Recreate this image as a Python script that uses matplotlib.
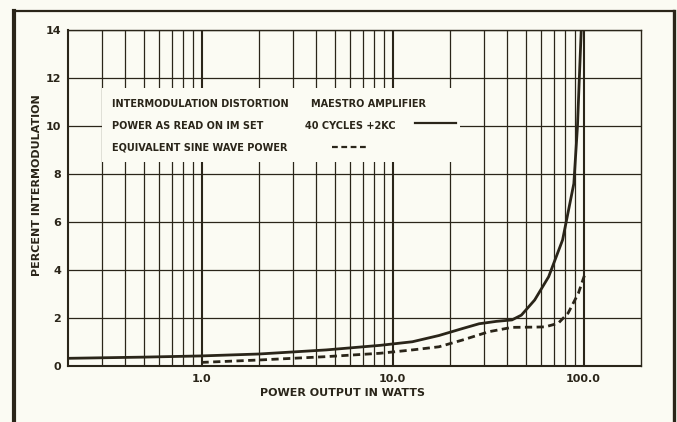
import matplotlib
matplotlib.use("Agg")
import matplotlib.pyplot as plt
from matplotlib.lines import Line2D
from matplotlib.patches import Rectangle
from matplotlib.ticker import FixedLocator, NullFormatter

INK = "#2a2519"
PAPER = "#fbfbf3"

# power output (W) vs. percent IM, as read on the IM set (40 cps + 2 kc)
im_set_watts = [0.2, 0.5, 1.0, 2.0, 4.5, 8.6, 12.7, 17.5, 23, 28.4, 35, 42.2,
                47.3, 55.5, 65.7, 77.7, 84, 89, 93, 95, 97.3]
im_set_pct = [0.32, 0.37, 0.42, 0.50, 0.67, 0.86, 1.01, 1.27, 1.55, 1.76, 1.86,
              1.92, 2.12, 2.75, 3.72, 5.25, 6.6, 7.6, 10.0, 11.9, 14.0]

# same distortion plotted against equivalent sine wave power
sine_watts = [1.0, 2.0, 4.5, 8.6, 12.7, 17.5, 23.2, 32, 42.2, 55, 63, 73.7,
              83, 94, 102]
sine_pct = [0.15, 0.25, 0.39, 0.53, 0.67, 0.80, 1.08, 1.43, 1.61, 1.62, 1.63,
            1.78, 2.2, 3.03, 3.86]

x_major = [1.0, 10.0, 100.0]
x_major_labels = ["1.0", "10.0", "100.0"]
x_minor = [m * d for d in (0.1, 1.0, 10.0, 100.0) for m in range(2, 10)]
y_ticks = [0, 2, 4, 6, 8, 10, 12, 14]

plt.rcParams["font.family"] = "DejaVu Sans"
plt.rcParams["font.weight"] = "bold"

fig = plt.figure(figsize=(6.77, 4.22), dpi=100, facecolor=PAPER)
W, H = 677.0, 422.0
ax = fig.add_axes([68 / W, 1 - 366 / H, 573 / W, 336 / H])
ax.set_facecolor(PAPER)

ax.set_xscale("log")
ax.set_xlim(0.2, 200)
ax.set_ylim(0, 14)

ax.xaxis.set_major_locator(FixedLocator(x_major))
ax.xaxis.set_minor_locator(FixedLocator([v for v in x_minor if 0.2 < v < 200]))
ax.xaxis.set_minor_formatter(NullFormatter())
ax.set_xticklabels(x_major_labels)
ax.set_yticks(y_ticks)
ax.tick_params(which="both", length=0, colors=INK, labelsize=8)
ax.tick_params(axis="x", pad=6)
ax.tick_params(axis="y", pad=5)

ax.grid(True, which="minor", axis="x", color=INK, lw=0.9)
ax.grid(True, which="major", axis="x", color=INK, lw=1.5)
ax.grid(True, which="major", axis="y", color=INK, lw=0.9)
ax.set_axisbelow(True)
for side, sp in ax.spines.items():
    sp.set_color(INK)
    sp.set_linewidth(1.5 if side in ("left", "bottom") else 1.0)

ax.plot(im_set_watts, im_set_pct, color=INK, lw=2.0, zorder=4,
        solid_capstyle="butt")
ax.plot(sine_watts, sine_pct, color=INK, lw=2.0, zorder=4,
        dashes=(2.6, 1.6))

# blank panel behind the caption
ax.add_patch(Rectangle((0.0585, 0.607), 0.626, 0.22, transform=ax.transAxes,
                       facecolor=PAPER, edgecolor="none", zorder=3))

cap = dict(transform=ax.transAxes, fontsize=7, color=INK, va="center",
           ha="left", zorder=5)
ax.text(0.077, 0.780, "INTERMODULATION DISTORTION", **cap)
ax.text(0.424, 0.780, "MAESTRO AMPLIFIER", **cap)
ax.text(0.077, 0.714, "POWER AS READ ON IM SET", **cap)
ax.text(0.414, 0.714, "40 CYCLES +2KC", **cap)
ax.text(0.077, 0.649, "EQUIVALENT SINE WAVE POWER", **cap)
ax.add_line(Line2D([0.606, 0.677], [0.723, 0.723], transform=ax.transAxes,
                   color=INK, lw=1.6, zorder=5))
ax.add_line(Line2D([0.461, 0.525], [0.652, 0.652], transform=ax.transAxes,
                   color=INK, lw=1.6, dashes=(2.6, 1.6), zorder=5))

fig.text(342 / W, 1 - 393 / H, "POWER OUTPUT IN WATTS", fontsize=8,
         color=INK, ha="center", va="center")
fig.text(37 / W, 1 - 185 / H, "PERCENT INTERMODULATION", fontsize=8,
         color=INK, ha="center", va="center", rotation=90)

# heavy page border
fig.add_artist(Line2D([14 / W, 14 / W], [0, 1 - 11 / H], color=INK, lw=3.0))
fig.add_artist(Line2D([14 / W, 674 / W], [1 - 11 / H, 1 - 11 / H],
                      color=INK, lw=1.6))
fig.add_artist(Line2D([674 / W, 674 / W], [0, 1 - 11 / H], color=INK, lw=2.4))

fig.savefig("out.png", dpi=100, facecolor=PAPER)
